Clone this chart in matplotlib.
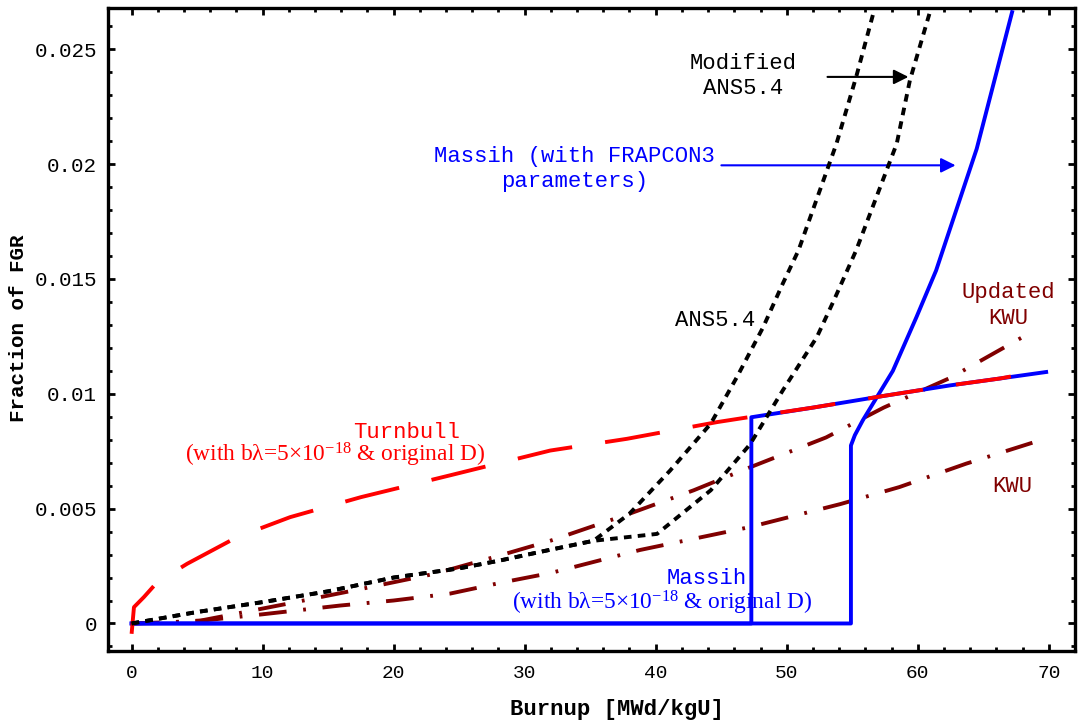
import matplotlib
matplotlib.use("Agg")
import matplotlib.pyplot as plt
from matplotlib.ticker import MultipleLocator

plt.rcParams['mathtext.fontset'] = 'custom'
plt.rcParams['mathtext.rm'] = 'Liberation Serif'
plt.rcParams['mathtext.it'] = 'Liberation Serif:italic'
plt.rcParams['lines.scale_dashes'] = False

MONO = 'Liberation Mono'
SERIF = 'Liberation Serif'

# ---- data ----
burnup_ans = [0, 5, 10, 15, 20, 25, 28.1, 31.7, 35.25, 38.0, 41.1, 44.2, 46.2, 48.2, 49.7, 50.9, 53.8, 55.3, 56.6]
frac_ans = [0, 0.0005, 0.00093, 0.0014, 0.002, 0.0024, 0.00274, 0.00318, 0.0036, 0.00478, 0.00666,
            0.0087, 0.01073, 0.0129, 0.0148, 0.01625, 0.0209, 0.0238, 0.02655]

burnup_mod = [0, 5, 10, 15, 20, 25, 28.1, 31.7, 35.25, 40.1, 44.2, 47.2, 49.7, 52.3, 53.6, 55.3, 58.4, 59.4, 60.9]
frac_mod = [0, 0.0005, 0.00093, 0.0014, 0.002, 0.0024, 0.00274, 0.00318, 0.0036, 0.0039, 0.0058,
            0.0078, 0.01015, 0.01247, 0.01407, 0.01625, 0.0209, 0.02365, 0.02657]

burnup_massih_frap = [0, 54.9, 54.9, 55.2, 55.8, 58.1, 59.9, 61.4, 64.5, 67.2]
frac_massih_frap = [0, 0, 0.00775, 0.0082, 0.00884, 0.011, 0.01334, 0.01537, 0.02067, 0.02662]

burnup_massih_orig = [0, 47.3, 47.3, 52, 57.3, 62.5, 66.3, 69.8]
frac_massih_orig = [0, 0, 0.00898, 0.0094, 0.0099, 0.01037, 0.01067, 0.01095]

burnup_turnbull = [0, 0.18, 0.94, 1.96, 4.24, 8.05, 12.1, 17.5, 24.3, 31.95, 37.8, 44.7, 47.3, 52, 57.3, 62.5, 66.3, 69.4]
frac_turnbull = [-0.00045, 0.00071, 0.00115, 0.0018, 0.0026, 0.00376, 0.00463, 0.0055, 0.00645, 0.00753,
                 0.00804, 0.00877, 0.009, 0.0094, 0.0099, 0.01037, 0.01067, 0.011]

burnup_ukwu = [0, 2, 5.3, 7.3, 11.9, 17.5, 23.1, 28.1, 31.95, 38, 42.9, 47.2, 53, 57.4, 62.5, 68.9]
frac_ukwu = [0, 0.00002, 0.00013, 0.00035, 0.00086, 0.0015, 0.00216, 0.00296, 0.0036, 0.00478, 0.0058,
             0.0068, 0.0081, 0.0094, 0.0107, 0.01276]

burnup_kwu = [0, 5, 10, 15.9, 20, 24.3, 28.4, 32, 38.8, 47.2, 54.1, 58.6, 63.7, 69.3]
frac_kwu = [0, 0.0001, 0.0004, 0.00078, 0.001, 0.0013, 0.0018, 0.0022, 0.0032, 0.0042, 0.0052,
            0.00594, 0.00696, 0.00797]

xticks = [0, 10, 20, 30, 40, 50, 60, 70]
yticks = [0, 0.005, 0.01, 0.015, 0.02, 0.025]
ytick_labels = ['0', '0.005', '0.01', '0.015', '0.02', '0.025']

BLUE = '#0000ff'
RED = '#ff0000'
DARKRED = '#800000'

fig = plt.figure(figsize=(10.78, 7.22), dpi=100)
ax = fig.add_axes([0.1002, 0.0983, 0.8970, 0.8906])

lw = 2.8
ax.plot(burnup_kwu, frac_kwu, color=DARKRED, lw=lw, dashes=(20, 12, 2, 12), zorder=2)
ax.plot(burnup_ukwu, frac_ukwu, color=DARKRED, lw=lw, dashes=(20, 12, 2, 12), zorder=2)
ax.plot(burnup_massih_orig, frac_massih_orig, color=BLUE, lw=lw, zorder=3)
ax.plot(burnup_turnbull, frac_turnbull, color=RED, lw=lw, dashes=(40, 24), zorder=4)
ax.plot(burnup_massih_frap, frac_massih_frap, color=BLUE, lw=lw, zorder=3)
ax.plot(burnup_ans, frac_ans, color='black', lw=lw, dashes=(5.5, 4.5), zorder=5)
ax.plot(burnup_mod, frac_mod, color='black', lw=lw, dashes=(5.5, 4.5), zorder=5)

ax.set_xlim(-1.8, 72)
ax.set_ylim(-0.0012, 0.0268)
ax.set_xticks(xticks)
ax.set_yticks(yticks)
ax.set_yticklabels(ytick_labels)
ax.xaxis.set_minor_locator(MultipleLocator(2))
ax.yaxis.set_minor_locator(MultipleLocator(0.001))
ax.tick_params(which='both', direction='in', top=True, right=True, width=2)
ax.tick_params(which='major', length=5)
ax.tick_params(which='minor', length=3)
ax.tick_params(axis='y', which='major', pad=8)
ax.tick_params(axis='x', which='major', pad=10)
for lab in ax.get_xticklabels():
    lab.set_fontfamily(MONO)
    lab.set_fontsize(14)
for lab in ax.get_yticklabels():
    lab.set_fontfamily(MONO)
    lab.set_fontsize(15)
for sp in ax.spines.values():
    sp.set_linewidth(2.4)

ax.set_xlabel('Burnup [MWd/kgU]', fontfamily=MONO, fontweight='bold', fontsize=16)
ax.xaxis.set_label_coords(0.526, -0.075)
ax.set_ylabel('Fraction of FGR', fontfamily=MONO, fontweight='bold', fontsize=15)
ax.yaxis.set_label_coords(-0.083, 0.502)

# annotations
ax.text(46.7, 0.02382, 'Modified\nANS5.4', fontfamily=MONO, fontsize=16, ha='center', va='center',
        linespacing=1.25, color='black')
ax.annotate('', xy=(59.5, 0.0238), xytext=(52.9, 0.0238),
            arrowprops=dict(arrowstyle='-|>', color='black', lw=1.5, mutation_scale=22))
ax.text(33.8, 0.01977, 'Massih (with FRAPCON3\nparameters)', fontfamily=MONO, fontsize=16, ha='center',
        va='center', linespacing=1.25, color=BLUE)
ax.annotate('', xy=(63.1, 0.01995), xytext=(44.8, 0.01995),
            arrowprops=dict(arrowstyle='-|>', color=BLUE, lw=1.5, mutation_scale=22))
ax.text(44.5, 0.0132, 'ANS5.4', fontfamily=MONO, fontsize=16, ha='center', va='center', color='black')
ax.text(66.9, 0.01385, 'Updated\nKWU', fontfamily=MONO, fontsize=16, ha='center', va='center',
        linespacing=1.3, color=DARKRED)
ax.text(67.2, 0.00597, 'KWU', fontfamily=MONO, fontsize=16, ha='center', va='center', color=DARKRED)
ax.text(20.96, 0.00832, 'Turnbull', fontfamily=MONO, fontsize=16, ha='center', va='center', color=RED)
ax.text(15.56, 0.00732, r'(with bλ=5×10$^{-18}$ & original D)', fontfamily=SERIF, fontsize=16.8,
        ha='center', va='center', color=RED)
ax.text(43.9, 0.00196, 'Massih', fontfamily=MONO, fontsize=16, ha='center', va='center', color=BLUE)
ax.text(40.5, 0.00091, r'(with bλ=5×10$^{-18}$ & original D)', fontfamily=SERIF, fontsize=16.8,
        ha='center', va='center', color=BLUE)

fig.savefig('out.png', dpi=100)
